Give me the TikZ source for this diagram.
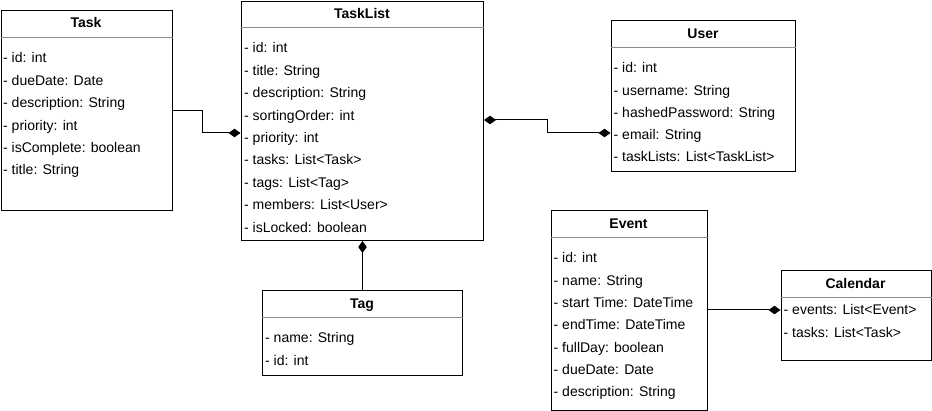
\documentclass[tikz,border=0pt]{standalone}
\usepackage{fontspec}
\setmainfont{Liberation Sans}
\usetikzlibrary{arrows.meta}
\begin{document}
\begin{tikzpicture}[x=1pt,y=-1pt,
  classbox/.style={draw=black, line width=1pt, fill=white, anchor=north west, inner sep=0pt},
  ctitle/.style={font=\fontsize{14}{16}\selectfont\bfseries, anchor=base, inner sep=0pt},
  attr/.style={font=\fontsize{14}{16}\selectfont, anchor=base west, inner sep=0pt},
  sepline/.style={draw=black!45, line width=1pt},
  conn/.style={draw=black, line width=1pt},
  dtip/.tip={Diamond[length=12pt,width=8.5pt]},
  comp/.style={conn, -dtip},
  comp2/.style={conn, dtip-dtip}]
\useasboundingbox (0,0) rectangle (932,411);

% Task
\node[classbox, minimum width=171.5pt, minimum height=199.5pt] (task) at (0.5,10.5) {};
\draw[sepline] (task.west |- 0,38) -- (task.east |- 0,38);
\node[ctitle] (task-t) at (86,28) {Task};
\foreach \t [count=\i from 0] in {- id: int,- dueDate: Date,- description: String,- priority: int,- isComplete: boolean,- title: String}
  \node[attr] (task-a\i) at (3,63+22.4*\i) {\t};

% TaskList
\node[classbox, minimum width=242.5pt, minimum height=239pt] (tasklist) at (240.5,1) {};
\draw[sepline] (tasklist.west |- 0,28) -- (tasklist.east |- 0,28);
\node[ctitle] (tasklist-t) at (362,19) {TaskList};
\foreach \t [count=\i from 0] in {- id: int,- title: String,- description: String,- sortingOrder: int,- priority: int,- tasks: List<Task>,- tags: List<Tag>,- members: List<User>,- isLocked: boolean}
  \node[attr] (tasklist-a\i) at (244,53+22.4*\i) {\t};

% User
\node[classbox, minimum width=184.5pt, minimum height=151.5pt] (user) at (610.5,20) {};
\draw[sepline] (user.west |- 0,48) -- (user.east |- 0,48);
\node[ctitle] (user-t) at (703,39) {User};
\foreach \t [count=\i from 0] in {- id: int,- username: String,- hashedPassword: String,- email: String,- taskLists: List<TaskList>}
  \node[attr] (user-a\i) at (613.5,73+22.25*\i) {\t};

% Tag
\node[classbox, minimum width=200pt, minimum height=84.5pt] (tag) at (262,290.5) {};
\draw[sepline] (tag.west |- 0,318) -- (tag.east |- 0,318);
\node[ctitle] (tag-t) at (362,309) {Tag};
\foreach \t [count=\i from 0] in {- name: String,- id: int}
  \node[attr] (tag-a\i) at (265,343+22.2*\i) {\t};

% Event
\node[classbox, minimum width=156pt, minimum height=200pt] (event) at (550.5,210.5) {};
\draw[sepline] (event.west |- 0,238) -- (event.east |- 0,238);
\node[ctitle] (event-t) at (628.5,229) {Event};
\foreach \t [count=\i from 0] in {- id: int,- name: String,- start Time: DateTime,- endTime: DateTime,- fullDay: boolean,- dueDate: Date,- description: String}
  \node[attr] (event-a\i) at (553.5,263+22.33*\i) {\t};

% Calendar
\node[classbox, minimum width=150pt, minimum height=90.5pt] (calendar) at (780.5,270) {};
\draw[sepline] (calendar.west |- 0,298) -- (calendar.east |- 0,298);
\node[ctitle] (calendar-t) at (855.5,289) {Calendar};
\foreach \t [count=\i from 0] in {- events: List<Event>,- tasks: List<Task>}
  \node[attr] (calendar-a\i) at (783.5,315+22.5*\i) {\t};

% connectors
\coordinate (c1) at (202,133);
\draw[comp] (task.east) -| (c1) -- (tasklist.west |- c1);
\coordinate (c2) at (547,133);
\draw[comp2] (tasklist.east |- 0,120) -| (c2) -- (user.west |- c2);
\draw[comp] (tag.north) -- (tag.north |- tasklist.south);
\draw[comp] (event.east |- 0,310) -- (calendar.west |- 0,310);
\end{tikzpicture}
\end{document}
